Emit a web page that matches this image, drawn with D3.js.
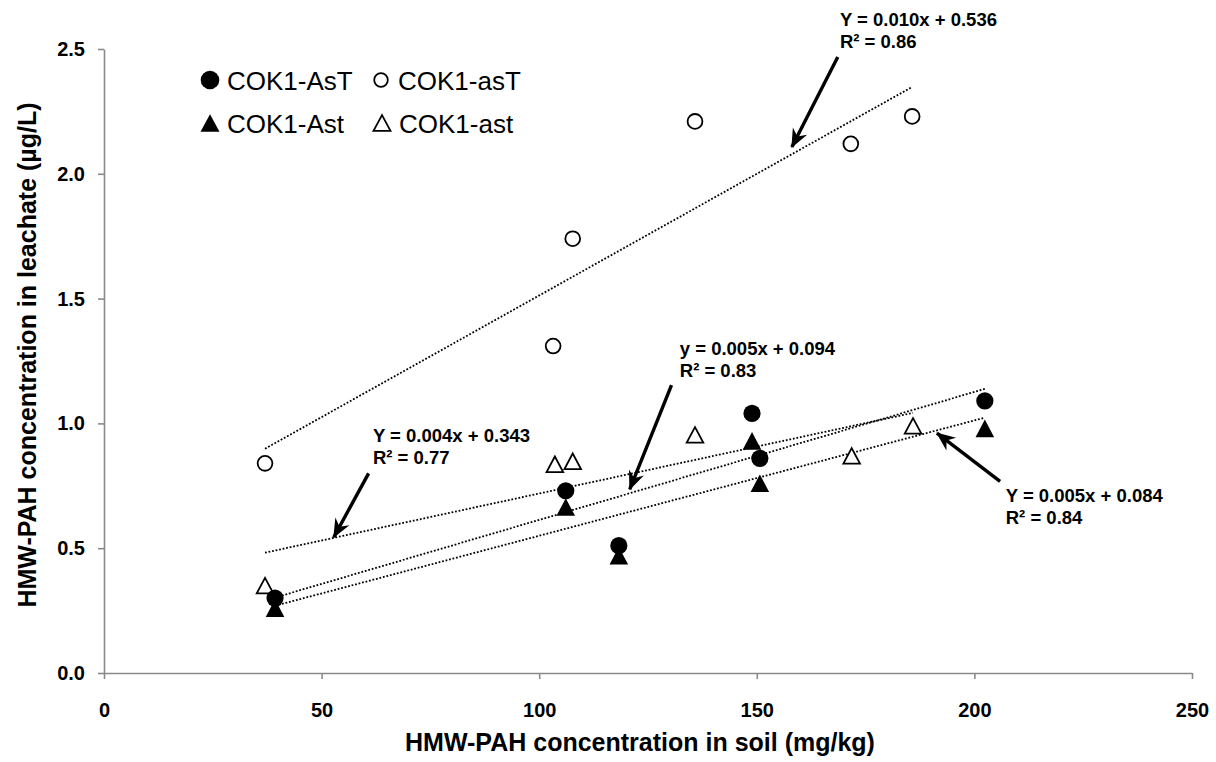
<!DOCTYPE html>
<html>
<head>
<meta charset="utf-8">
<script src="https://cdn.jsdelivr.net/npm/d3@7"></script>
<style>
  body { margin: 0; background: #fff; }
  svg { font-family: "Liberation Sans", Arial, sans-serif; }
</style>
</head>
<body>
<svg width="1216" height="762"></svg>
<script>
// soil concentration (mg/kg) and leachate concentration (µg/L)
const xAsT = [39.3, 106.1, 118.3, 148.9, 150.7, 202.4];
const yAsT = [0.30, 0.73, 0.51, 1.04, 0.86, 1.09];
const xAst = [39.3, 106.1, 118.3, 148.9, 150.7, 202.4];
const yAst = [0.26, 0.665, 0.47, 0.93, 0.76, 0.98];
const xasT = [37.0, 103.2, 107.7, 135.8, 171.6, 185.7];
const yasT = [0.84, 1.31, 1.74, 2.21, 2.12, 2.23];
const xast = [37.0, 103.6, 107.7, 135.8, 171.8, 185.9];
const yast = [0.35, 0.836, 0.848, 0.954, 0.87, 0.99];

const xTicks = [0, 50, 100, 150, 200, 250];
const yTicks = [0, 0.5, 1.0, 1.5, 2.0, 2.5];

const seriesNames = ["COK1-AsT", "COK1-asT", "COK1-Ast", "COK1-ast"];

// trendline labels: text, label corner and arrow (data units)
const notes = [
  {lines: ["Y = 0.010x + 0.536", "R² = 0.86"], at: [169.1, 2.594], from: [168.6, 2.468], to: [158.05, 2.107]},
  {lines: ["y = 0.005x + 0.094", "R² = 0.83"], at: [132.3, 1.273], from: [130.4, 1.153], to: [120.8, 0.736]},
  {lines: ["Y = 0.004x + 0.343", "R² = 0.77"], at: [61.8, 0.925], from: [60.8, 0.800], to: [52.8, 0.544]},
  {lines: ["Y = 0.005x + 0.084", "R² = 0.84"], at: [207.2, 0.684], from: [205.9, 0.768], to: [191.4, 0.961]}
];

const svg = d3.select("svg"),
    width = +svg.attr("width"),
    height = +svg.attr("height");
const margin = {top: 49, right: 24, bottom: 89, left: 104};

const x = d3.scaleLinear().domain([0, 250]).range([margin.left, width - margin.right]);
const y = d3.scaleLinear().domain([0, 2.5]).range([height - margin.bottom, margin.top]);

// axes
const gx = svg.append("g")
    .attr("transform", `translate(0,${height - margin.bottom})`)
    .call(d3.axisBottom(x).tickValues(xTicks).tickSize(6).tickSizeOuter(0).tickPadding(24).tickFormat(d3.format("d")));
const gy = svg.append("g")
    .attr("transform", `translate(${margin.left},0)`)
    .call(d3.axisLeft(y).tickValues(yTicks).tickSize(6).tickSizeOuter(0).tickPadding(13).tickFormat(d3.format(".1f")));
[gx, gy].forEach(g => {
  g.select(".domain").attr("stroke", "#8a8a8a").attr("stroke-width", 1.6);
  g.selectAll(".tick line").attr("stroke", "#8a8a8a").attr("stroke-width", 1.6);
  g.selectAll(".tick text").attr("fill", "#000").style("font-size", "20px").style("font-weight", "bold")
    .style("font-family", "'Liberation Sans', Arial, sans-serif");
});

svg.append("text")
    .attr("x", (margin.left + width - margin.right) / 2 - 8)
    .attr("y", 751)
    .attr("text-anchor", "middle")
    .style("font-size", "25px").style("font-weight", "bold")
    .text("HMW-PAH concentration in soil (mg/kg)");
svg.append("text")
    .attr("transform", `translate(36,${(margin.top + height - margin.bottom) / 2 - 6}) rotate(-90)`)
    .attr("text-anchor", "middle")
    .style("font-size", "25px").style("font-weight", "bold")
    .text("HMW-PAH concentration in leachate (µg/L)");

// least squares trendline
function fit(xs, ys) {
  const mx = d3.mean(xs), my = d3.mean(ys);
  const sxy = d3.sum(xs, (v, i) => (v - mx) * (ys[i] - my));
  const sxx = d3.sum(xs, v => (v - mx) * (v - mx));
  const b = sxy / sxx;
  return {b: b, a: my - b * mx, x0: d3.min(xs), x1: d3.max(xs)};
}

const trends = [fit(xast, yast), fit(xasT, yasT), fit(xAst, yAst), fit(xAsT, yAsT)];
svg.append("g")
  .selectAll("line")
  .data(trends)
  .enter().append("line")
    .attr("x1", d => x(d.x0))
    .attr("y1", d => y(d.a + d.b * d.x0))
    .attr("x2", d => x(d.x1))
    .attr("y2", d => y(d.a + d.b * d.x1))
    .attr("stroke", "#000")
    .attr("stroke-width", 1.8)
    .attr("stroke-dasharray", "1.8,1.8");

// markers
function tri(w, h) {
  return `M0,${-h / 2}L${w / 2},${h / 2}L${-w / 2},${h / 2}Z`;
}
function drawMarkers(xs, ys, kind) {
  const g = svg.append("g");
  const pts = xs.map((v, i) => [v, ys[i]]);
  if (kind === "circle" || kind === "opencircle") {
    g.selectAll("circle").data(pts).enter().append("circle")
      .attr("cx", d => x(d[0])).attr("cy", d => y(d[1]))
      .attr("r", kind === "circle" ? 8.6 : 7.4)
      .attr("fill", kind === "circle" ? "#000" : "#fff")
      .attr("stroke", "#000").attr("stroke-width", kind === "circle" ? 0 : 1.8);
  } else {
    g.selectAll("path").data(pts).enter().append("path")
      .attr("transform", d => `translate(${x(d[0])},${y(d[1])})`)
      .attr("d", kind === "tri" ? tri(18.6, 17.6) : tri(16.6, 15.6))
      .attr("fill", kind === "tri" ? "#000" : "#fff")
      .attr("stroke", "#000").attr("stroke-width", kind === "tri" ? 0 : 1.8)
      .attr("stroke-linejoin", "miter");
  }
}
drawMarkers(xast, yast, "opentri");
drawMarkers(xasT, yasT, "opencircle");
drawMarkers(xAst, yAst, "tri");
drawMarkers(xAsT, yAsT, "circle");

// arrows + labels
svg.append("defs").append("marker")
    .attr("id", "head")
    .attr("viewBox", "-19 -9 21 18")
    .attr("markerWidth", 21).attr("markerHeight", 18)
    .attr("markerUnits", "userSpaceOnUse")
    .attr("refX", 0).attr("refY", 0)
    .attr("orient", "auto")
  .append("path")
    .attr("d", "M1,0L-18,-8L-12,0L-18,8Z")
    .attr("fill", "#000");

const note = svg.append("g").selectAll("g").data(notes).enter().append("g");
note.append("line")
    .attr("x1", d => x(d.from[0])).attr("y1", d => y(d.from[1]))
    .attr("x2", d => x(d.to[0])).attr("y2", d => y(d.to[1]))
    .attr("stroke", "#000").attr("stroke-width", 3.4)
    .attr("marker-end", "url(#head)");
note.each(function(d) {
  const t = d3.select(this).append("text")
      .attr("x", x(d.at[0])).attr("y", y(d.at[1]))
      .style("font-size", "18.5px").style("font-weight", "bold");
  d.lines.forEach((s, i) => {
    t.append("tspan").attr("x", x(d.at[0])).attr("dy", i === 0 ? 0 : 22).text(s);
  });
});

// legend
const legendItems = [
  {name: seriesNames[0], kind: "circle", lx: 210, ly: 80},
  {name: seriesNames[1], kind: "opencircle", lx: 381, ly: 80},
  {name: seriesNames[2], kind: "tri", lx: 210, ly: 123},
  {name: seriesNames[3], kind: "opentri", lx: 382, ly: 123}
];
const leg = svg.append("g").selectAll("g").data(legendItems).enter().append("g")
    .attr("transform", d => `translate(${d.lx},${d.ly})`);
leg.filter(d => d.kind.indexOf("circle") >= 0).append("circle")
    .attr("r", d => d.kind === "circle" ? 9.3 : 6.8)
    .attr("fill", d => d.kind === "circle" ? "#000" : "#fff")
    .attr("stroke", "#000").attr("stroke-width", d => d.kind === "circle" ? 0 : 1.8);
leg.filter(d => d.kind.indexOf("tri") >= 0).append("path")
    .attr("d", d => d.kind === "tri" ? tri(19, 17.6) : tri(17, 15.8))
    .attr("fill", d => d.kind === "tri" ? "#000" : "#fff")
    .attr("stroke", "#000").attr("stroke-width", d => d.kind === "tri" ? 0 : 1.8);
leg.append("text")
    .attr("x", 17).attr("y", 10)
    .style("font-size", "26px")
    .text(d => d.name);
</script>
</body>
</html>
